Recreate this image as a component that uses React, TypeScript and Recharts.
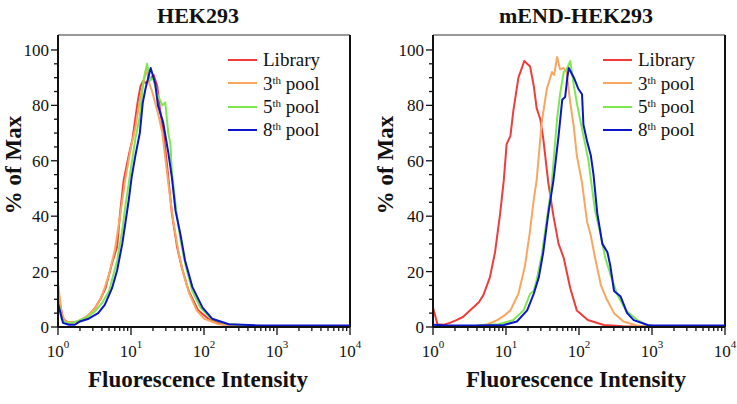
import { LineChart, Line, XAxis, YAxis, ReferenceLine, Legend } from 'recharts'

const FONT = '"Liberation Serif", "Times New Roman", serif'
const Y_MAX = 105.4

// HEK293 panel
const hekLibX = [1, 1.17, 1.38, 1.78, 2.14, 2.63, 3.24, 3.8, 4.47, 5.5, 6.46, 7.08, 7.94, 9.33, 10.5, 12.3, 13.5, 14.8, 15.8, 17.4, 19.1, 20.4, 22.9, 25.1, 28.2, 31.6, 36.3, 42.7, 50.1, 61.7, 83.2, 115, 178, 316, 1000, 10000]
const hekLibY = [12, 3, 1.5, 1.8, 2.5, 4, 7, 10, 14, 23, 29, 41, 53, 62, 68, 81, 87, 89, 88, 89, 90, 91, 87, 78, 69, 57, 41, 29, 21, 13, 6, 3, 1, 0.5, 0.3, 0.3]
const hekP3X = [1, 1.12, 1.26, 1.58, 2, 2.51, 3.16, 3.98, 5.01, 6.03, 7.08, 8.32, 10, 11.5, 13.2, 14.8, 16.2, 17.8, 19.5, 21.4, 24, 26.9, 29.5, 33.1, 38, 44.7, 52.5, 63.1, 79.4, 100, 158, 316, 1000, 10000]
const hekP3Y = [16, 5, 2, 1.5, 2.5, 4, 6.5, 11, 19, 28, 40, 53, 65, 72, 82, 88, 93, 88, 85, 81, 76, 70, 61, 50, 38, 27, 19, 12, 6, 3, 1, 0.4, 0.3, 0.3]
const hekP5X = [1, 1.12, 1.26, 1.58, 2, 2.51, 3.16, 3.98, 5.01, 6.46, 7.59, 8.32, 9.33, 10.2, 11.5, 13.2, 14.8, 16.6, 18.2, 20, 22.9, 26.9, 29.5, 32.4, 34.7, 36.3, 41.7, 47.9, 56.2, 69.2, 89.1, 126, 200, 398, 1000, 10000]
const hekP5Y = [10, 3, 1.5, 1.5, 2.5, 3.5, 5.5, 8.5, 13, 24, 35, 43, 52, 59, 68, 76, 89, 95, 89, 90, 84, 80, 81, 70, 66, 56, 42, 31, 22, 13, 7, 3, 1.2, 0.5, 0.3, 0.3]
const hekP8X = [1, 1.17, 1.41, 1.7, 2, 2.63, 3.55, 4.37, 5.5, 6.46, 7.59, 8.32, 9.33, 10.2, 11.5, 13.2, 14.5, 15.8, 18.6, 21.4, 23.4, 27.5, 32.4, 36.3, 40.7, 47.9, 55, 69.2, 95.5, 129, 219, 501, 1000, 10000]
const hekP8Y = [8.6, 1.5, 0.8, 0.8, 2, 3, 5, 8, 14, 20.5, 30, 37, 46, 54, 62, 70, 81, 86, 93.5, 88, 80, 74, 63, 54, 42, 33, 24, 14.5, 7, 3, 1, 0.6, 0.5, 0.5]

// mEND-HEK293 panel
const endLibX = [1, 1.15, 1.41, 1.7, 2.09, 2.57, 3.55, 4.27, 4.9, 6.03, 7.08, 8.32, 9.33, 10.2, 11.5, 12.6, 14.8, 17.8, 19.5, 21.4, 24, 26.3, 29.5, 32.4, 38, 44.7, 52.5, 61.7, 75.9, 93.3, 132, 219, 398, 1000, 10000]
const endLibY = [7, 1, 0.8, 1.5, 2.5, 3.6, 7, 9, 11.5, 18, 27, 41, 53, 66, 69, 78, 90, 96, 95, 94, 87, 79, 75, 68, 52, 40, 30, 25, 14, 6, 2.5, 0.7, 0.3, 0.2, 0.2]
const endP3X = [4.17, 5.62, 7.59, 9.33, 11.5, 14.8, 18.2, 21.4, 24, 26.3, 30.9, 36.3, 42.7, 45.7, 50.1, 55, 61.7, 67.6, 75.9, 85.1, 93.3, 110, 129, 145, 166, 200, 240, 302, 407, 631, 794, 10000]
const endP3Y = [0.5, 1, 2.5, 4, 6, 12, 22, 35, 46, 53, 74, 86, 92, 91, 97.5, 93, 93.5, 92, 81, 72, 62, 52, 38, 33, 25, 15, 10, 5, 2, 0.5, 0.2, 0.2]
const endP5X = [3.98, 7.94, 12.6, 17.4, 20, 21.4, 24, 26.3, 30.9, 36.3, 41.7, 50.1, 55, 61.7, 67.6, 75.9, 85.1, 93.3, 115, 135, 151, 166, 195, 229, 269, 331, 437, 631, 891, 1259, 10000]
const endP5Y = [0.5, 1, 2.5, 6, 10, 12, 13, 17, 26, 39, 50, 75, 84, 92, 93, 96, 87, 81, 69, 60, 50, 42, 34, 25, 19, 12, 6, 2.5, 0.5, 0.2, 0.2]
const endP8X = [1, 1.58, 3.98, 9.33, 14.1, 19.5, 24, 28.2, 32.4, 38, 44.7, 52.5, 58.9, 64.6, 69.2, 72.4, 85.1, 97.7, 110, 115, 129, 145, 158, 178, 209, 245, 269, 302, 372, 457, 562, 871, 1000, 10000]
const endP8Y = [0.8, 0.5, 0.5, 0.7, 2, 6, 12, 18, 27, 41, 53, 69, 82, 83, 90, 93.5, 90, 86, 84, 73, 67, 62, 55, 41, 30, 27, 22, 13, 11, 5, 2.5, 0.7, 0.5, 0.5]

const decades = [1, 10, 100, 1000]
const mantissas = [1, 2, 3, 4, 5, 6, 7, 8, 9]
const xTicks = [...decades.flatMap((d) => mantissas.map((m) => m * d)), 10000]
const yTicks = [0, 5, 10, 15, 20, 25, 30, 35, 40, 45, 50, 55, 60, 65, 70, 75, 80, 85, 90, 95, 100]

const seriesMeta = [
  { key: 'lib', num: 'Library', sup: '', rest: '', color: '#ee3d3b' },
  { key: 'p3', num: '3', sup: 'th', rest: ' pool', color: '#f9a65e' },
  { key: 'p5', num: '5', sup: 'th', rest: ' pool', color: '#7de84b' },
  { key: 'p8', num: '8', sup: 'th', rest: ' pool', color: '#0b16cc' },
]

const toPoints = (xs: number[], ys: number[]) => xs.map((x, i) => ({ x, y: ys[i] }))

const panels = [
  {
    title: 'HEK293',
    left: 0,
    width: 368,
    margin: { top: 35, right: 18, bottom: 47, left: 18 },
    textCenter: 198,
    yLabelX: 13,
    series: [toPoints(hekLibX, hekLibY), toPoints(hekP3X, hekP3Y), toPoints(hekP5X, hekP5Y), toPoints(hekP8X, hekP8Y)],
  },
  {
    title: 'mEND-HEK293',
    left: 370,
    width: 367,
    margin: { top: 35, right: 12, bottom: 47, left: 23 },
    textCenter: 206,
    yLabelX: 14.5,
    series: [toPoints(endLibX, endLibY), toPoints(endP3X, endP3Y), toPoints(endP5X, endP5Y), toPoints(endP8X, endP8Y)],
  },
]

function XTick(props: any) {
  const { x, y, payload } = props
  const exp = Math.log10(payload.value)
  const major = Math.abs(exp - Math.round(exp)) < 1e-6
  return (
    <g>
      <line x1={x} x2={x} y1={y} y2={y + (major ? 8 : 4)} stroke="#111" strokeWidth={1.3} />
      {major && (
        <text x={x} y={y + 30} textAnchor="middle" fontFamily={FONT} fontSize={17} fill="#111">
          10
          <tspan dy={-9} fontSize={11}>{Math.round(exp)}</tspan>
        </text>
      )}
    </g>
  )
}

function YTick(props: any) {
  const { x, y, payload } = props
  const major = payload.value % 20 === 0
  return (
    <g>
      <line x1={x} x2={x - (major ? 7 : 4)} y1={y} y2={y} stroke="#111" strokeWidth={1.3} />
      {major && (
        <text x={x - 9} y={y + 6} textAnchor="end" fontFamily={FONT} fontSize={17} fill="#111">
          {payload.value}
        </text>
      )}
    </g>
  )
}

function LegendBox() {
  return (
    <div style={{ fontFamily: FONT, fontSize: 19, color: '#111' }}>
      {seriesMeta.map((s) => (
        <div key={s.key} style={{ display: 'flex', alignItems: 'center', height: 23.3, lineHeight: 1, whiteSpace: 'nowrap' }}>
          <span style={{ width: 29, height: 0, borderTop: `2.5px solid ${s.color}`, marginRight: 6 }} />
          <span>
            {s.num}
            {s.sup && <span style={{ fontSize: 11, position: 'relative', top: -6 }}>{s.sup}</span>}
            {s.rest}
          </span>
        </div>
      ))}
    </div>
  )
}

export default function App() {
  return (
    <div style={{ position: 'absolute', left: 0, top: 0, width: 737, height: 404, background: '#fff' }}>
      {panels.map((p) => {
        const plotLeft = p.margin.left + 40
        const textStyle = {
          position: 'absolute' as const,
          left: p.textCenter,
          transform: 'translateX(-50%)',
          fontFamily: FONT,
          fontWeight: 'bold' as const,
          lineHeight: 1,
          whiteSpace: 'nowrap' as const,
          color: '#111',
        }
        return (
          <div key={p.title} style={{ position: 'absolute', left: p.left, top: 0, width: p.width, height: 404 }}>
            <LineChart width={p.width} height={404} margin={p.margin}>
              <XAxis
                dataKey="x"
                type="number"
                scale="log"
                domain={[1, 10000]}
                ticks={xTicks}
                interval={0}
                tick={<XTick />}
                tickLine={false}
                tickSize={0}
                tickMargin={0}
                height={30}
                axisLine={{ stroke: '#111', strokeWidth: 2 }}
              />
              <YAxis
                type="number"
                domain={[0, Y_MAX]}
                ticks={yTicks}
                interval={0}
                tick={<YTick />}
                tickLine={false}
                tickSize={0}
                tickMargin={0}
                width={40}
                axisLine={{ stroke: '#111', strokeWidth: 2 }}
              />
              <ReferenceLine y={Y_MAX} stroke="#777" strokeWidth={1.5} />
              <ReferenceLine x={10000} stroke="#111" strokeWidth={2} />
              <Legend
                layout="vertical"
                align="center"
                verticalAlign="middle"
                content={<LegendBox />}
                wrapperStyle={{ left: plotLeft + 170, top: 48.3, width: 140 }}
              />
              {seriesMeta.map((s, i) => (
                <Line
                  key={s.key}
                  data={p.series[i]}
                  dataKey="y"
                  name={s.key}
                  type="linear"
                  stroke={s.color}
                  strokeWidth={2}
                  strokeLinejoin="round"
                  dot={false}
                  isAnimationActive={false}
                />
              ))}
            </LineChart>
            <div style={{ ...textStyle, top: 4.6, fontSize: 22 }}>{p.title}</div>
            <div style={{ ...textStyle, top: 368, fontSize: 23 }}>Fluorescence Intensity</div>
            <div
              style={{
                ...textStyle,
                left: p.yLabelX,
                top: 165,
                fontSize: 23,
                transform: 'translate(-50%, -50%) rotate(-90deg)',
              }}
            >
              % of Max
            </div>
          </div>
        )
      })}
    </div>
  )
}
